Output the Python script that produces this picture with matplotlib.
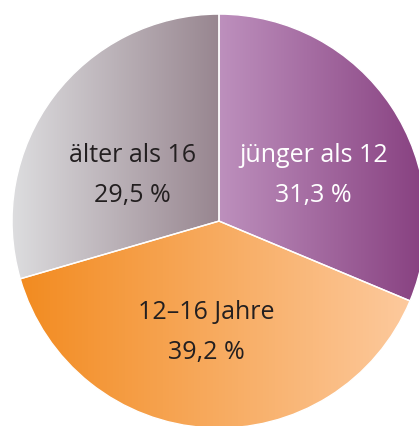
import numpy as np
import matplotlib.pyplot as plt
from matplotlib.colors import LinearSegmentedColormap

# Daten
labels = ['jünger als 12', '12–16 Jahre', 'älter als 16']
values = [31.3, 39.2, 29.5]
value_labels = ['31,3 %', '39,2 %', '29,5 %']

# Farbverläufe (links -> rechts) je Segment
grad_colors = [('#bd90bd', '#874080'), ('#f28a1e', '#fdcca2'), ('#dddddf', '#988690')]
grad_span = [(0.0, 1.0), (-1.0, 1.0), (-1.0, 0.0)]
text_colors = ['white', '#231f20', '#231f20']
text_pos = [(0.455, 0.22), (-0.06, -0.54), (-0.42, 0.22)]

plt.rcParams['font.family'] = ['Open Sans', 'DejaVu Sans']

fig = plt.figure(figsize=(4.19, 4.26), dpi=100)
ax = fig.add_axes([0, 0, 1, 1])

wedges, _ = ax.pie(values, startangle=90, counterclock=False, radius=1.0,
                   wedgeprops=dict(linewidth=1.0, edgecolor='white'))

grad = np.linspace(0, 1, 256).reshape(1, -1)
for w, (c0, c1), (x0, x1) in zip(wedges, grad_colors, grad_span):
    w.set_facecolor('none')
    cmap = LinearSegmentedColormap.from_list('g', [c0, c1])
    im = ax.imshow(grad, cmap=cmap, extent=(x0, x1, -1, 1), aspect='auto',
                   interpolation='bilinear', zorder=0)
    im.set_clip_path(w)

for lab, val, col, (x, y) in zip(labels, value_labels, text_colors, text_pos):
    ax.text(x, y + 0.097, lab, ha='center', va='center', fontsize=18, color=col)
    ax.text(x, y - 0.097, val, ha='center', va='center', fontsize=18, color=col)

ax.set_xlim(-1.058, 0.966)
ax.set_ylim(-0.990, 1.068)
ax.set_aspect('equal')
ax.axis('off')

plt.savefig('out.png', dpi=100)
